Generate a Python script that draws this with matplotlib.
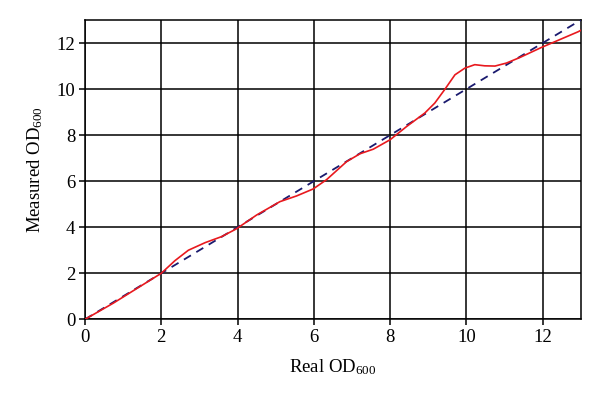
import matplotlib
matplotlib.use("Agg")
import matplotlib.pyplot as plt

plt.rcParams['font.family'] = 'Liberation Serif'
plt.rcParams['mathtext.fontset'] = 'custom'
plt.rcParams['mathtext.rm'] = 'Liberation Serif'
plt.rcParams['mathtext.it'] = 'Liberation Serif'

# values
real_od = [0, 0.74, 2.0, 2.36, 2.71, 3.15, 3.58, 3.97, 4.5, 5.11, 5.55, 5.98,
           6.33, 6.86, 7.21, 7.56, 8.0, 8.43, 8.91, 9.17, 9.44, 9.70, 9.96,
           10.22, 10.48, 10.75, 11.05, 11.4, 11.97, 12.93, 13.0]
measured_od = [0, 0.70, 2.0, 2.55, 3.0, 3.33, 3.59, 3.93, 4.53, 5.11, 5.36, 5.66,
               6.06, 6.85, 7.19, 7.39, 7.8, 8.37, 8.96, 9.39, 10.0, 10.62, 10.91,
               11.06, 11.01, 11.0, 11.13, 11.37, 11.81, 12.49, 12.55]
ideal_x = [0, 13]
ideal_y = [0, 13]
ticks = [0, 2, 4, 6, 8, 10, 12]

fig = plt.figure(figsize=(6, 4.05), dpi=100)
ax = fig.add_axes([0.1417, 0.2116, 0.8263, 0.739])

ax.plot(ideal_x, ideal_y, color='#1a1a6e', lw=1.3, ls=(0, (4.5, 3.5)), zorder=3)
ax.plot(real_od, measured_od, color='#e8191e', lw=1.2, zorder=4)

ax.set_xlim(0, 13)
ax.set_ylim(0, 13)
ax.set_xticks(ticks)
ax.set_yticks(ticks)
ax.grid(True, color='black', lw=1.1)
ax.set_axisbelow(True)
for s in ax.spines.values():
    s.set_linewidth(1.1)
ax.tick_params(direction='out', length=4, width=1.1, labelsize=13.5, pad=3)

ax.set_xlabel(r'Real OD$_{600}$', fontsize=13.5, labelpad=8)
ax.set_ylabel(r'Measured OD$_{600}$', fontsize=13.5, labelpad=8)

fig.savefig('out.png', dpi=100)
